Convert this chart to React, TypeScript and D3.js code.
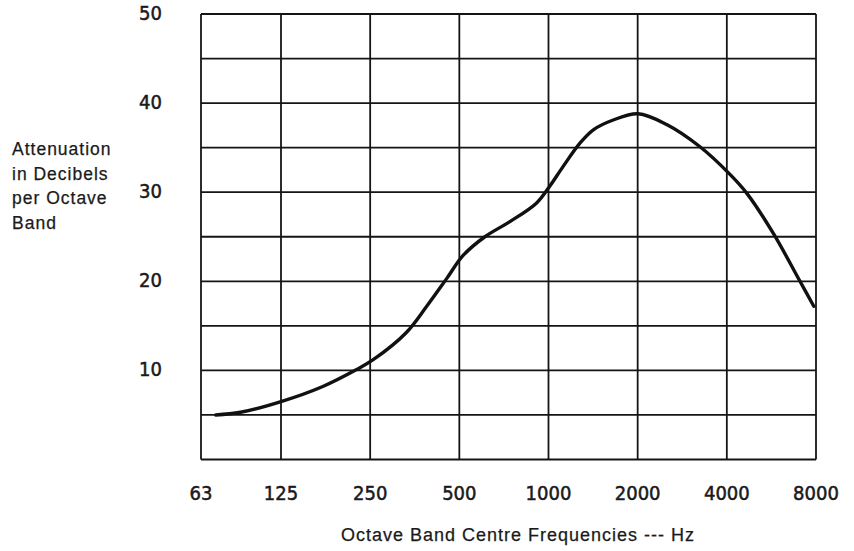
import React from "react";
import * as d3 from "d3";

const freqLabels = ["63", "125", "250", "500", "1000", "2000", "4000", "8000"];
const yTicks = [10, 20, 30, 40, 50];
const yGrid = [0, 5, 10, 15, 20, 25, 30, 35, 40, 45, 50];

// curve: frequency (Hz) and attenuation (dB)
const curveFreq = [71, 88, 125, 173, 225, 256, 330, 388, 453, 515, 610, 741, 912, 1011, 1121, 1277, 1417, 1654, 2004, 2505, 3247, 4099, 4667, 5736, 7064, 7864];
const curveAtt = [5.0, 5.3, 6.5, 8.2, 10.1, 11.2, 14.2, 17.2, 20.3, 22.9, 25.0, 26.7, 28.8, 30.7, 32.9, 35.5, 37.0, 38.1, 38.8, 37.6, 35.1, 32.0, 29.9, 25.4, 20.0, 17.2];

const yTitleLines = ["Attenuation", "in Decibels", "per Octave", "Band"];
const xTitle = "Octave Band Centre Frequencies  ---  Hz";

export default function App() {
  const W = 854, H = 551;
  const x = d3.scaleLinear().domain([0, 1, 7]).range([201, 281, 816]);
  const y = d3.scaleLinear().domain([0, 50]).range([459.5, 14]);
  const octave = (f: number) => Math.log2(f / 62.5);

  const pts: [number, number][] = curveFreq.map((f, i) => [x(octave(f)), y(curveAtt[i])]);
  const line = d3.line().curve(d3.curveCatmullRom.alpha(0.5));
  const path = line(pts) || "";

  const tickFont = "'DejaVu Sans Condensed', 'DejaVu Sans', sans-serif";
  const textFont = "'Liberation Sans', Arial, sans-serif";

  return (
    <svg width={W} height={H} style={{ position: "absolute", left: 0, top: 0, background: "#fff" }}>
      <rect x={0} y={0} width={W} height={H} fill="#fff" />
      <g stroke="#151515" strokeWidth={1.8} fill="none">
        {yGrid.map((v) => (
          <line key={"h" + v} x1={x(0)} x2={x(7)} y1={y(v)} y2={y(v)} />
        ))}
        {freqLabels.map((l, i) => (
          <line key={"v" + l} x1={x(i)} x2={x(i)} y1={y(0)} y2={y(50)} />
        ))}
      </g>
      <path d={path} fill="none" stroke="#111" strokeWidth={3.4} strokeLinecap="round" strokeLinejoin="round" />
      <g fontFamily={tickFont} fontSize={20} fill="#1a1a1a" stroke="#1a1a1a" strokeWidth={0.5}>
        {yTicks.map((v) => (
          <text key={"yt" + v} x={162} y={y(v)} dy="0.3em" textAnchor="end">{v}</text>
        ))}
        {freqLabels.map((l, i) => (
          <text key={"xt" + l} x={x(i)} y={500} textAnchor="middle">{l}</text>
        ))}
      </g>
      <g fontFamily={textFont} fontSize={17.5} fill="#1a1a1a" stroke="#1a1a1a" strokeWidth={0.25}>
        {yTitleLines.map((t, i) => (
          <text key={t} x={12} y={155 + i * 24.7} letterSpacing={1}>{t}</text>
        ))}
        <text x={518} y={541} textAnchor="middle" fontSize={18} letterSpacing={1}>{xTitle}</text>
      </g>
    </svg>
  );
}
